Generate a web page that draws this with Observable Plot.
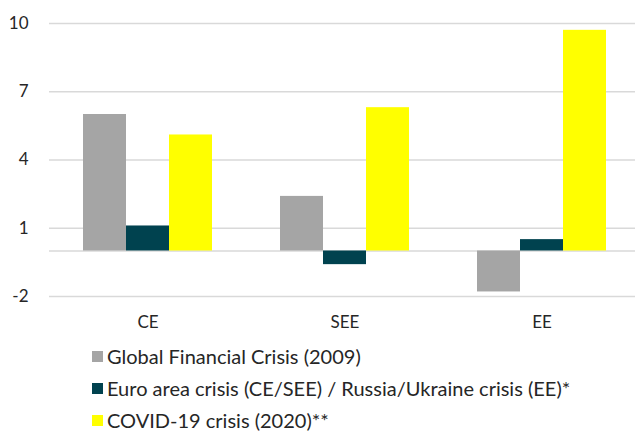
<!DOCTYPE html>
<html>
<head>
<meta charset="utf-8">
<script src="https://cdn.jsdelivr.net/npm/d3@7"></script>
<script src="https://cdn.jsdelivr.net/npm/@observablehq/plot@0.6"></script>
<style>
  html, body { margin: 0; padding: 0; background: #fff; }
  body { width: 635px; height: 432px; overflow: hidden; font-family: Lato, "DejaVu Sans", sans-serif; color: #262626; }
  #legend { position: relative; padding-left: 92px; }
  .item { height: 32px; display: flex; align-items: center; font-size: 20px; }
  .sw { width: 11px; height: 11px; margin-right: 4px; flex: none; }
</style>
</head>
<body>
<div id="chart"></div>
<div id="legend"></div>
<script>
const regions = ["CE", "SEE", "EE"];
const seriesNames = [
  "Global Financial Crisis (2009)",
  "Euro area crisis (CE/SEE) / Russia/Ukraine crisis (EE)*",
  "COVID-19 crisis (2020)**"
];
const seriesColors = ["#a5a5a5", "#00424f", "#ffff00"];
const gfc = [6.0, 2.4, -1.8];
const euroRussia = [1.1, -0.6, 0.5];
const covid = [5.1, 6.3, 9.7];
const yTicks = [-2, 1, 4, 7, 10];

const seriesValues = [gfc, euroRussia, covid];
const data = [];
regions.forEach((r, i) => {
  seriesNames.forEach((s, j) => {
    data.push({region: r, series: s, value: seriesValues[j][i]});
  });
});

const chart = Plot.plot({
  width: 635,
  height: 340,
  marginTop: 23,
  marginBottom: 44,
  marginLeft: 50,
  marginRight: 0,
  style: {fontFamily: "Lato, 'DejaVu Sans', sans-serif", fontSize: "17px", color: "#262626", background: "#fff"},
  fx: {domain: regions, padding: 0, range: [49, 640], label: null, axis: null},
  x: {domain: seriesNames, paddingInner: 0, paddingOuter: 0.74, axis: null},
  y: {domain: [-2, 10], ticks: yTicks, label: null, axis: null},
  color: {domain: seriesNames, range: seriesColors},
  marks: [
    Plot.ruleY(yTicks.concat([0]), {stroke: "#d9d9d9", strokeWidth: 1.5}),
    Plot.barY(data, {fx: "region", x: "series", y: "value", fill: "series"}),
    Plot.axisY({ticks: yTicks, tickSize: 0, tickPadding: 21, fontSize: 17, label: null, tickFormat: d => String(d)}),
    Plot.axisFx({anchor: "bottom", tickSize: 0, tickPadding: 19, fontSize: 17, label: null})
  ]
});
document.getElementById("chart").appendChild(chart);

const legend = document.getElementById("legend");
seriesNames.forEach((s, j) => {
  const it = document.createElement("div");
  it.className = "item";
  const sw = document.createElement("span");
  sw.className = "sw";
  sw.style.background = seriesColors[j];
  const tx = document.createElement("span");
  tx.textContent = s;
  it.appendChild(sw);
  it.appendChild(tx);
  legend.appendChild(it);
});
</script>
</body>
</html>
